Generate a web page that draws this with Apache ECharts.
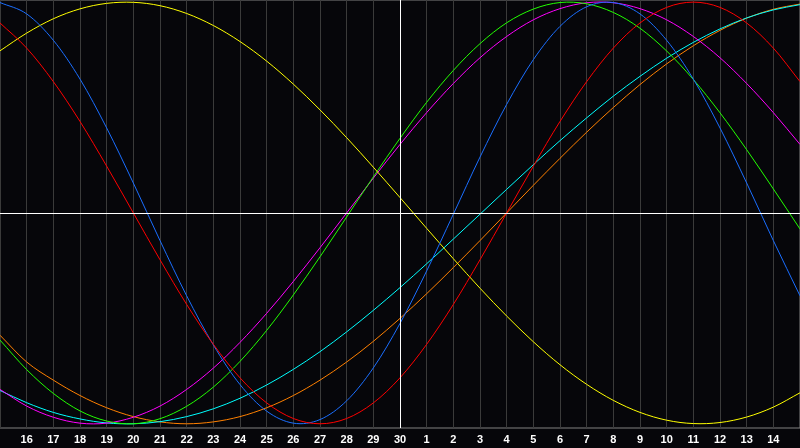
<!DOCTYPE html>
<html>
<head>
<meta charset="utf-8">
<script src="https://cdn.jsdelivr.net/npm/echarts@6/dist/echarts.min.js"></script>
<style>
  html, body { margin: 0; padding: 0; background: #06060a; }
  #chart { width: 800px; height: 448px; }
</style>
</head>
<body>
<div id="chart"></div>
<script>
// Day offsets relative to today (0 = the 30th)
const dayOffsets = [-15,-14,-13,-12,-11,-10,-9,-8,-7,-6,-5,-4,-3,-2,-1,0,1,2,3,4,5,6,7,8,9,10,11,12,13,14,15];
// Tick labels (day of month) for each offset
const tickLabels = ['15','16','17','18','19','20','21','22','23','24','25','26','27','28','29','30','1','2','3','4','5','6','7','8','9','10','11','12','13','14','15'];

// Cycle values (-1 .. 1)
const physical     = [0.998,0.944,0.819,0.635,0.403,0.142,-0.131,-0.393,-0.626,-0.814,-0.940,-0.997,-0.980,-0.891,-0.735,-0.524,-0.275,-0.006,0.265,0.515,0.727,0.885,0.978,0.998,0.944,0.819,0.635,0.403,0.142,-0.131,-0.393];
const emotional    = [0.901,0.782,0.623,0.434,0.222,0,-0.222,-0.434,-0.623,-0.782,-0.901,-0.975,-1,-0.975,-0.901,-0.782,-0.623,-0.434,-0.222,0,0.222,0.434,0.623,0.782,0.901,0.975,1,0.975,0.901,0.782,0.623];
const intellectual = [-0.603,-0.743,-0.856,-0.939,-0.987,-1.000,-0.976,-0.917,-0.826,-0.704,-0.557,-0.389,-0.208,-0.019,0.171,0.354,0.525,0.676,0.803,0.902,0.967,0.998,0.992,0.951,0.876,0.768,0.633,0.475,0.300,0.114,-0.076];
const intuitive    = [-0.837,-0.916,-0.969,-0.997,-0.997,-0.969,-0.916,-0.837,-0.736,-0.614,-0.476,-0.325,-0.165,0,0.165,0.325,0.476,0.614,0.736,0.837,0.916,0.969,0.997,0.997,0.969,0.916,0.837,0.736,0.614,0.476,0.325];
const aesthetic    = [0.769,0.853,0.921,0.968,0.994,0.999,0.983,0.946,0.889,0.813,0.720,0.611,0.489,0.357,0.217,0.073,-0.073,-0.217,-0.357,-0.489,-0.611,-0.720,-0.813,-0.889,-0.946,-0.983,-0.999,-0.994,-0.968,-0.921,-0.853];
const awareness    = [-0.58,-0.707,-0.793,-0.866,-0.924,-0.966,-0.991,-1,-0.991,-0.966,-0.924,-0.866,-0.793,-0.707,-0.609,-0.5,-0.383,-0.259,-0.131,0,0.131,0.259,0.383,0.5,0.609,0.707,0.793,0.866,0.924,0.966,0.991];
const spiritual    = [-0.842,-0.900,-0.946,-0.977,-0.996,-1.000,-0.990,-0.966,-0.929,-0.879,-0.816,-0.742,-0.658,-0.564,-0.462,-0.354,-0.241,-0.124,-0.006,0.112,0.229,0.343,0.451,0.554,0.648,0.734,0.809,0.873,0.925,0.963,0.988];

const seriesDefs = [
  { name: 'Awareness', values: awareness, color: '#ff8000' },
  { name: 'Spiritual', values: spiritual, color: '#00ffff' },
  { name: 'Intuitive', values: intuitive, color: '#ff00ff' },
  { name: 'Intellectual', values: intellectual, color: '#22ff00' },
  { name: 'Aesthetic', values: aesthetic, color: '#ffff00' },
  { name: 'Physical', values: physical, color: '#1a6eff' },
  { name: 'Emotional', values: emotional, color: '#ff0000' }
];

const chart = echarts.init(document.getElementById('chart'), null, { renderer: 'canvas' });

// Each data item draws a cubic Hermite (Catmull-Rom) segment to the next point,
// using the axis scales (api.coord) for every position.
function makeRenderer(values, color) {
  const n = dayOffsets.length;
  return function (params, api) {
    const i = params.dataIndex;
    if (i >= n - 1) return null;
    const pt = function (k) {
      k = Math.max(0, Math.min(n - 1, k));
      return api.coord([dayOffsets[k], values[k]]);
    };
    const p0 = pt(i - 1), p1 = pt(i), p2 = pt(i + 1), p3 = pt(i + 2);
    const m1x = (p2[0] - p0[0]) / (i === 0 ? 1 : 2);
    const m1y = (p2[1] - p0[1]) / (i === 0 ? 1 : 2);
    const m2x = (p3[0] - p1[0]) / (i === n - 2 ? 1 : 2);
    const m2y = (p3[1] - p1[1]) / (i === n - 2 ? 1 : 2);
    return {
      type: 'bezierCurve',
      silent: true,
      shape: {
        x1: p1[0], y1: p1[1],
        x2: p2[0], y2: p2[1],
        cpx1: p1[0] + m1x / 3, cpy1: p1[1] + m1y / 3,
        cpx2: p2[0] - m2x / 3, cpy2: p2[1] - m2y / 3
      },
      style: { stroke: color, lineWidth: 1, fill: null }
    };
  };
}

const series = seriesDefs.map(function (s) {
  return {
    name: s.name,
    type: 'custom',
    silent: true,
    clip: true,
    encode: { x: 0, y: 1 },
    renderItem: makeRenderer(s.values, s.color),
    data: dayOffsets.map(function (d, i) { return [d, s.values[i]]; })
  };
});

series.push({
  name: 'axes',
  type: 'line',
  data: [],
  silent: true,
  markLine: {
    silent: true,
    symbol: ['none', 'none'],
    label: { show: false },
    lineStyle: { color: '#ffffff', width: 1, type: 'solid' },
    data: [{ xAxis: 0 }, { yAxis: 0 }]
  }
});

chart.setOption({
  backgroundColor: '#06060a',
  animation: false,
  grid: {
    left: 0, right: 0, top: 0, bottom: 20,
    show: true,
    borderColor: '#808080',
    borderWidth: 1,
    backgroundColor: 'transparent'
  },
  xAxis: {
    type: 'value',
    min: -15,
    max: 15,
    interval: 1,
    axisLine: { show: true, lineStyle: { color: '#808080' } },
    axisTick: { show: false },
    splitLine: { show: true, lineStyle: { color: '#3a3a3a', width: 1 } },
    axisLabel: {
      color: '#ffffff',
      fontFamily: 'Liberation Sans',
      fontWeight: 'bold',
      fontSize: 11,
      margin: 6,
      showMinLabel: false,
      showMaxLabel: false,
      formatter: function (v) { return tickLabels[Math.round(v) + 15]; }
    }
  },
  yAxis: {
    type: 'value',
    min: -1.02,
    max: 1.01,
    show: false,
    splitLine: { show: false }
  },
  series: series
});
</script>
</body>
</html>
